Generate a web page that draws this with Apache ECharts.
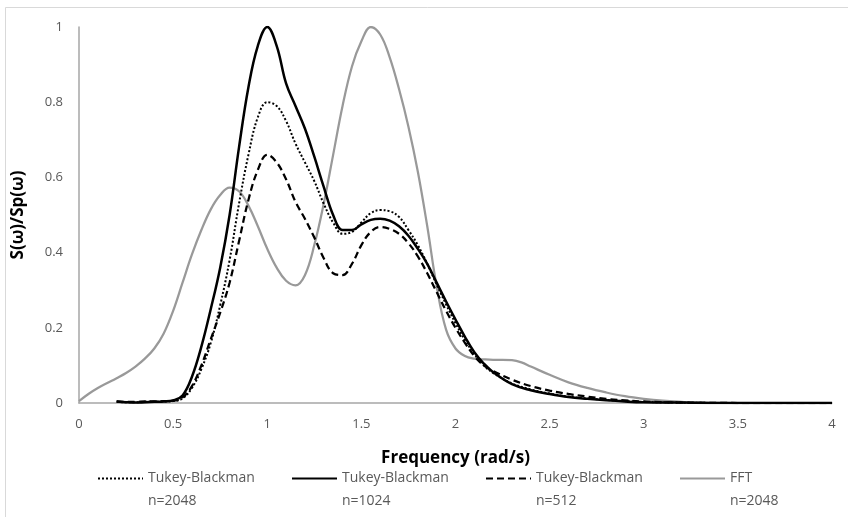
<!DOCTYPE html>
<html>
<head>
<meta charset="utf-8">
<script src="https://cdn.jsdelivr.net/npm/echarts@6/dist/echarts.min.js"></script>
<style>
html,body{margin:0;padding:0;background:#fff;}
#chart{width:848px;height:517px;}
</style>
</head>
<body>
<div id="chart"></div>
<script>
// Frequency grids (rad/s)
const freqTB = [0.2,0.25,0.3,0.35,0.4,0.45,0.5,0.55,0.6,0.65,0.7,0.75,0.8,0.85,0.9,0.95,1.0,1.05,1.1,1.15,1.2,1.25,1.3,1.35,1.4,1.45,1.5,1.55,1.6,1.65,1.7,1.75,1.8,1.85,1.9,1.95,2.0,2.05,2.1,2.15,2.2,2.3,2.4,2.5,2.6,2.7,2.8,2.9,3.0,3.2,3.5,4.0];
const tb2048 = [0.003,0.002,0.002,0.003,0.003,0.004,0.005,0.012,0.04,0.09,0.16,0.26,0.38,0.53,0.66,0.76,0.80,0.79,0.75,0.69,0.64,0.59,0.53,0.48,0.45,0.455,0.48,0.505,0.513,0.51,0.495,0.46,0.42,0.37,0.315,0.262,0.212,0.168,0.13,0.10,0.08,0.052,0.036,0.025,0.017,0.012,0.008,0.005,0.003,0.001,0,0];
const tb1024 = [0.004,0.002,0.001,0.002,0.003,0.004,0.007,0.02,0.07,0.15,0.25,0.36,0.50,0.68,0.84,0.95,1.0,0.95,0.85,0.79,0.73,0.655,0.575,0.50,0.46,0.46,0.475,0.487,0.49,0.485,0.47,0.445,0.41,0.37,0.32,0.27,0.222,0.176,0.135,0.105,0.082,0.05,0.034,0.024,0.016,0.011,0.007,0.004,0.002,0.001,0,0];
const tb512 = [0.004,0.003,0.003,0.004,0.004,0.005,0.006,0.015,0.045,0.10,0.17,0.24,0.32,0.43,0.54,0.62,0.66,0.64,0.595,0.535,0.49,0.44,0.385,0.345,0.34,0.37,0.42,0.455,0.468,0.463,0.45,0.425,0.39,0.345,0.295,0.245,0.20,0.16,0.125,0.10,0.085,0.062,0.045,0.033,0.024,0.017,0.011,0.007,0.004,0.001,0,0];
const freqFFT = [0,0.05,0.1,0.15,0.2,0.25,0.3,0.35,0.4,0.45,0.5,0.55,0.6,0.65,0.7,0.75,0.8,0.85,0.9,0.95,1.0,1.05,1.1,1.15,1.2,1.25,1.3,1.35,1.4,1.45,1.5,1.55,1.6,1.65,1.7,1.75,1.8,1.85,1.9,1.95,2.0,2.05,2.1,2.15,2.2,2.25,2.3,2.35,2.4,2.5,2.6,2.7,2.8,2.9,3.0,3.1,3.2,3.3,3.5,4.0];
const fft2048 = [0.005,0.024,0.04,0.053,0.066,0.08,0.097,0.118,0.145,0.185,0.245,0.32,0.395,0.46,0.515,0.553,0.573,0.563,0.525,0.47,0.41,0.36,0.325,0.313,0.34,0.42,0.53,0.66,0.79,0.895,0.962,1.0,0.98,0.92,0.835,0.735,0.615,0.47,0.31,0.195,0.145,0.125,0.118,0.116,0.115,0.115,0.114,0.108,0.097,0.075,0.055,0.04,0.028,0.018,0.011,0.006,0.003,0.001,0,0];

const seriesNames = ['Tukey-Blackman n=2048','Tukey-Blackman n=1024','Tukey-Blackman n=512','FFT n=2048'];
const xTitle = 'Frequency (rad/s)';
const yTitle = 'S(ω)/Sp(ω)';

function pairs(xs, ys){ return xs.map((x,i)=>[x, ys[i]]); }

const FONT = "'Open Sans', 'Liberation Sans', sans-serif";
const chart = echarts.init(document.getElementById('chart'), null, {renderer:'canvas'});
chart.setOption({
  animation:false,
  backgroundColor:'#fff',
  graphic:[{type:'rect', shape:{x:5.5,y:7.5,width:900,height:600}, style:{fill:'none', stroke:'#d9d9d9', lineWidth:1}, silent:true, z:-10}],
  grid:{left:79, right:16, top:27, bottom:114},
  xAxis:{type:'value', min:0, max:4, interval:0.5,
    name:xTitle, nameLocation:'middle', nameGap:47,
    nameTextStyle:{fontFamily:FONT, fontSize:17, fontWeight:'bold', color:'#000'},
    axisLine:{lineStyle:{color:'#a6a6a6', width:1.5}}, axisTick:{show:false}, splitLine:{show:false},
    axisLabel:{fontFamily:FONT, fontSize:13, color:'#595959', margin:15}},
  yAxis:{type:'value', min:0, max:1, interval:0.2,
    name:yTitle, nameLocation:'middle', nameGap:52, nameRotate:90,
    nameTextStyle:{fontFamily:FONT, fontSize:17, fontWeight:'bold', color:'#000'},
    axisLine:{show:true, lineStyle:{color:'#a6a6a6', width:1.5}}, axisTick:{show:false}, splitLine:{show:false},
    axisLabel:{fontFamily:FONT, fontSize:13, color:'#595959', margin:16}},
  legend:{left:97, top:444, padding:0, itemWidth:45, itemHeight:14, itemGap:33,
    data:seriesNames,
    itemStyle:{opacity:0},
    formatter:function(n){ const i=n.lastIndexOf(' '); return '\n'+n.slice(0,i)+'\n'+n.slice(i+1); },
    textStyle:{fontFamily:FONT, fontSize:14, color:'#595959', lineHeight:23, width:110}},
  series:[
    {name:seriesNames[0], type:'line', data:pairs(freqTB, tb2048), smooth:0.4, symbol:'none', z:3,
      lineStyle:{color:'#000', width:2, type:[2,2]}, itemStyle:{color:'#000'}},
    {name:seriesNames[1], type:'line', data:pairs(freqTB, tb1024), smooth:0.4, symbol:'none', z:4,
      lineStyle:{color:'#000', width:2.5, type:'solid'}, itemStyle:{color:'#000'}},
    {name:seriesNames[2], type:'line', data:pairs(freqTB, tb512), smooth:0.4, symbol:'none', z:3,
      lineStyle:{color:'#000', width:2.25, type:[7,4]}, itemStyle:{color:'#000'}},
    {name:seriesNames[3], type:'line', data:pairs(freqFFT, fft2048), smooth:0.4, symbol:'none', z:2,
      lineStyle:{color:'#999999', width:2.25, type:'solid'}, itemStyle:{color:'#999999'}}
  ]
});
</script>
</body>
</html>
